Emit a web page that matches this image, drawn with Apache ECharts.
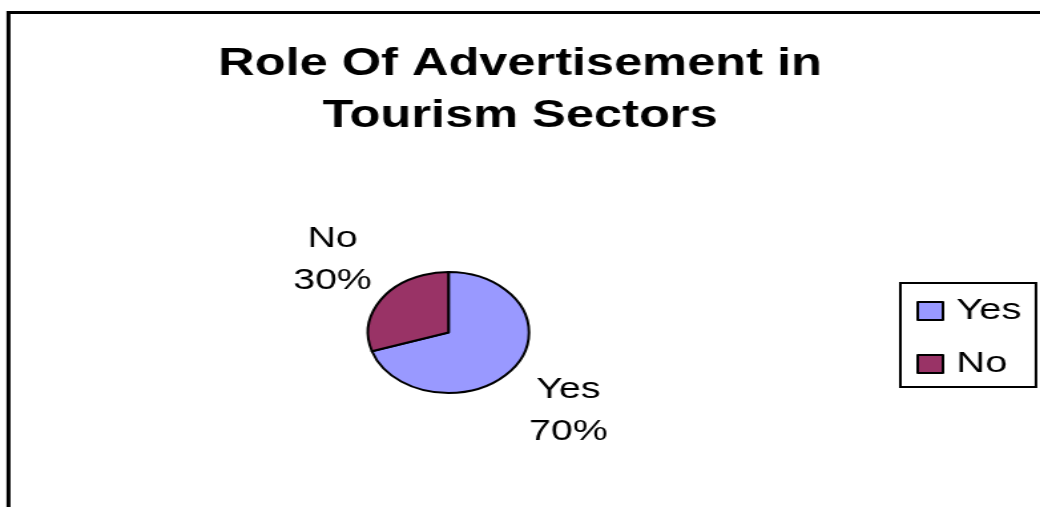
<!DOCTYPE html>
<html>
<head>
<meta charset="utf-8">
<script src="https://cdn.jsdelivr.net/npm/echarts@6/dist/echarts.min.js"></script>
<style>
  html, body { margin: 0; padding: 0; background: #ffffff; overflow: hidden; }
  /* the chart is laid out on a narrower canvas and widened, which gives the oval pie and wide lettering */
  #chart { width: 782px; height: 507px; transform: scaleX(1.33); transform-origin: 0 0; }
</style>
</head>
<body>
<div id="chart"></div>
<script>
const categories = ['Yes', 'No'];
const shares = [70, 30];
const sliceColors = ['#9999FF', '#993366'];
const chartTitle = 'Role Of Advertisement in\nTourism Sectors';

const FONT = '"Liberation Sans", Arial, sans-serif';
const labelShift = [[-15, 2], [18, 4]];

const chart = echarts.init(document.getElementById('chart'), null, { renderer: 'canvas' });

chart.setOption({
  backgroundColor: '#ffffff',
  animation: false,
  title: {
    text: chartTitle,
    left: 'center',
    top: 34,
    padding: [5, 0, 5, 6],
    textStyle: {
      fontFamily: FONT,
      fontSize: 38,
      fontWeight: 'bold',
      color: '#000000',
      lineHeight: 52
    }
  },
  legend: {
    orient: 'vertical',
    left: 677,
    top: 283,
    padding: [13, 11, 8, 12],
    borderColor: '#000000',
    borderWidth: 2,
    itemWidth: 19,
    itemHeight: 18,
    itemGap: 23,
    icon: 'rect',
    itemStyle: { borderColor: '#000000', borderWidth: 2 },
    textStyle: {
      fontFamily: FONT,
      fontSize: 30,
      color: '#000000',
      lineHeight: 30,
      padding: [0, 0, 0, 5]
    },
    data: categories
  },
  graphic: [{
    type: 'rect',
    silent: true,
    shape: { x: 6.4, y: 12.5, width: 2000, height: 2000 },
    style: { fill: 'none', stroke: '#000000', lineWidth: 3 }
  }],
  series: [{
    type: 'pie',
    center: [337.2, 332.5],
    radius: 60.5,
    startAngle: 90,
    clockwise: true,
    avoidLabelOverlap: false,
    emphasis: { disabled: true },
    itemStyle: { borderColor: '#000000', borderWidth: 2 },
    label: {
      show: true,
      position: 'outside',
      formatter: '{b}\n{d}%',
      fontFamily: FONT,
      fontSize: 29.5,
      lineHeight: 42,
      color: '#000000',
      distanceToLabelLine: 0
    },
    labelLine: { show: false, length: 69.5, length2: 0 },
    labelLayout: function (params) {
      const s = labelShift[params.dataIndex];
      return { align: 'center', dx: s[0], dy: s[1] };
    },
    data: categories.map(function (name, i) {
      return { name: name, value: shares[i], itemStyle: { color: sliceColors[i] } };
    })
  }]
});
</script>
</body>
</html>
